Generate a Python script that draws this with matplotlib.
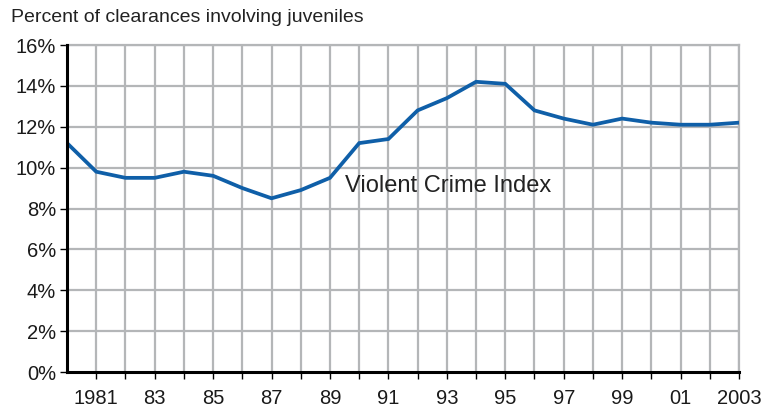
import matplotlib
matplotlib.use("Agg")
import matplotlib.pyplot as plt
from matplotlib.ticker import FixedLocator

plt.rcParams['font.family'] = ['Liberation Sans', 'DejaVu Sans']

years = list(range(1980, 2004))
values = [11.2, 9.8, 9.5, 9.5, 9.8, 9.6, 9.0, 8.5, 8.9, 9.5, 11.2, 11.4,
          12.8, 13.4, 14.2, 14.1, 12.8, 12.4, 12.1, 12.4, 12.2, 12.1, 12.1, 12.2]
tick_years = [1981, 1983, 1985, 1987, 1989, 1991, 1993, 1995, 1997, 1999, 2001, 2003]
tick_labels = ['1981', '83', '85', '87', '89', '91', '93', '95', '97', '99', '01', '2003']
y_ticks = [0, 2, 4, 6, 8, 10, 12, 14, 16]
y_labels = [f'{v}%' for v in y_ticks]

fig = plt.figure(figsize=(7.67, 4.08), dpi=100)
ax = fig.add_axes([0.0874, 0.0882, 0.9635 - 0.0874, 0.8897 - 0.0882])

grid_c = '#b4b6b8'
for y in years[1:]:
    ax.axvline(y, color=grid_c, lw=1.6, zorder=1)
for v in y_ticks[1:]:
    ax.axhline(v, color=grid_c, lw=1.6, zorder=1)

ax.plot(years, values, color='#0f5fa8', lw=2.7, zorder=3, solid_joinstyle='miter')

ax.set_xlim(1980, 2003)
ax.set_ylim(0, 16)
ax.xaxis.set_major_locator(FixedLocator(tick_years))
ax.set_xticklabels(tick_labels, fontsize=14.5, color='#1a1a1a')
ax.xaxis.set_minor_locator(FixedLocator(years[1:]))
ax.set_yticks(y_ticks)
ax.set_yticklabels(y_labels, fontsize=14.5, color='#1a1a1a')
ax.tick_params(axis='x', which='both', direction='out', length=5, width=1, color='black', pad=7)
ax.tick_params(axis='y', direction='out', length=5, width=1, color='black', pad=3)

for s in ['left', 'bottom']:
    ax.spines[s].set_color('black')
    ax.spines[s].set_linewidth(2.2)
    ax.spines[s].set_zorder(4)
for s in ['right', 'top']:
    ax.spines[s].set_color(grid_c)
    ax.spines[s].set_linewidth(1.6)

ax.text(1989.5, 9.1, 'Violent Crime Index', fontsize=17, color='#222222', va='center', ha='left', zorder=5)
fig.text(11 / 767, 1 - 18 / 408, 'Percent of clearances involving juveniles', fontsize=14, color='#222222', va='center', ha='left')

fig.savefig('out.png', dpi=100)
